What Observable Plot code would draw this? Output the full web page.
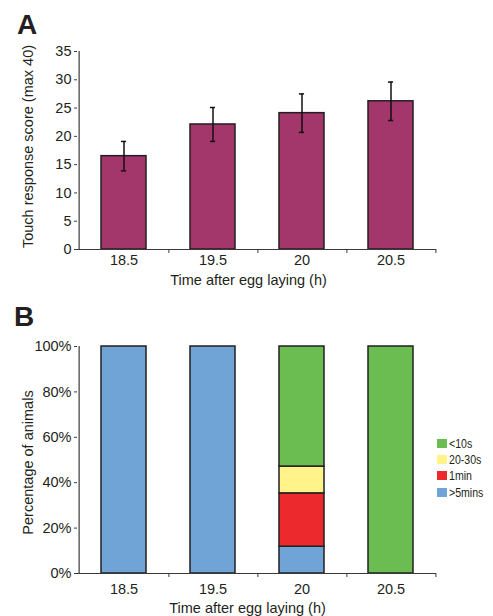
<!DOCTYPE html>
<html><head><meta charset="utf-8">
<script src="https://cdn.jsdelivr.net/npm/d3@7"></script>
<script src="https://cdn.jsdelivr.net/npm/@observablehq/plot@0.6"></script>
<style>
body{margin:0;background:#fff;}
#wrap{position:relative;width:493px;height:616px;overflow:hidden;font-family:"Liberation Sans",Arial,Helvetica,sans-serif;color:#231f20;}
.panel{position:absolute;left:0;}
.letter{position:absolute;font-weight:bold;font-size:28px;line-height:1;}
#legend{position:absolute;left:437px;top:435px;font-family:"Liberation Sans",Arial,sans-serif;font-size:13.4px;}
.row{display:flex;align-items:center;height:16.4px;white-space:nowrap;}
.sw{width:10px;height:9px;margin-right:1.5px;flex:none;}
.lbl{display:inline-block;transform:scaleX(0.79);transform-origin:left center;}
</style></head>
<body><div id="wrap"></div>
<script>
// ---- Data ----
const times = ["18.5", "19.5", "20", "20.5"];
// Panel A: touch response score (mean, error)
const scoreMean = [16.5, 22.1, 24.1, 26.2];
const scoreErr = [2.6, 3.0, 3.4, 3.4];
const yTicksA = [0, 5, 10, 15, 20, 25, 30, 35];
// Panel B: percentage of animals per response category
const categories = [">5mins", "1min", "20-30s", "<10s"];
const pctOver5min = [100, 100, 11.8, 0];
const pct1min = [0, 0, 23.5, 0];
const pct20to30s = [0, 0, 11.8, 0];
const pctUnder10s = [0, 0, 52.9, 100];
const catColors = ["#70a3d6", "#ec2a2d", "#fff38a", "#6cbd51"];
const yTicksB = [0, 20, 40, 60, 80, 100];
const legendOrder = ["<10s", "20-30s", "1min", ">5mins"];
const titleYA = "Touch response score (max 40)";
const titleYB = "Percentage of animals";
const titleX = "Time after egg laying (h)";

// ---- Build tables ----
const dataA = times.map((t, i) => ({t, m: scoreMean[i], e: scoreErr[i]}));
const series = [pctOver5min, pct1min, pct20to30s, pctUnder10s];
const dataB = [];
times.forEach((t, i) => categories.forEach((c, j) => {
  if (series[j][i] > 0) dataB.push({t, cat: c, pct: series[j][i]});
}));

const W = 493, ml = 77, mr = 57, pi = 0.5, po = 0.25;
const step = (W - ml - mr) / (times.length - pi + 2 * po);
const bw = step * (1 - pi);
const capInset = (bw - 5) / 2;
const ink = "#231f20";
const axisCol = "#3a3a3a";
const style = {fontFamily: '"Liberation Sans", Arial, Helvetica, sans-serif', fontSize: "14.5px", color: ink, background: "transparent", overflow: "visible"};

function axisLines() {
  return [
    Plot.ruleY([0], {stroke: axisCol, strokeWidth: 1.2}),
    Plot.ruleX([times[0]], {x: d => d, dx: -(po * step + bw / 2), stroke: axisCol, strokeWidth: 1.2}),
    Plot.ruleX(times, {x: d => d, dx: step / 2, y1: 0, y2: 0, insetBottom: -4, stroke: axisCol})
  ];
}

const chartA = Plot.plot({
  width: W, height: 290, marginLeft: ml, marginRight: mr, marginTop: 51, marginBottom: 41,
  style,
  x: {domain: times, paddingInner: pi, paddingOuter: po, axis: null},
  y: {domain: [0, 35], axis: null},
  marks: [
    Plot.barY(dataA, {x: "t", y: "m", fill: "#a3376b", stroke: ink, strokeWidth: 1.5}),
    Plot.ruleX(dataA, {x: "t", y1: d => d.m - d.e, y2: d => d.m + d.e, stroke: "#111", strokeWidth: 1.5}),
    Plot.tickY(dataA, {x: "t", y: d => d.m + d.e, insetLeft: capInset, insetRight: capInset, stroke: "#111", strokeWidth: 1.5}),
    Plot.tickY(dataA, {x: "t", y: d => d.m - d.e, insetLeft: capInset, insetRight: capInset, stroke: "#111", strokeWidth: 1.5}),
    Plot.axisY({ticks: yTicksA, tickSize: 3, tickPadding: 3, label: null, stroke: axisCol, fill: ink}),
    Plot.axisX({tickSize: 0, tickPadding: 5, label: null, fill: ink}),
    ...axisLines(),
    Plot.text([titleYA], {text: d => d, frameAnchor: "left", textAnchor: "middle", rotate: -90, dx: -49, dy: -4, fill: ink}),
    Plot.text([titleX], {text: d => d, frameAnchor: "bottom", textAnchor: "middle", dx: -8.5, dy: 35, fill: ink})
  ]
});

const chartB = Plot.plot({
  width: W, height: 326, marginLeft: ml, marginRight: mr, marginTop: 56, marginBottom: 43,
  style,
  x: {domain: times, paddingInner: pi, paddingOuter: po, axis: null},
  y: {domain: [0, 100], axis: null},
  color: {domain: categories, range: catColors},
  marks: [
    Plot.barY(dataB, {x: "t", y: "pct", fill: "cat", stroke: ink, strokeWidth: 1.5}),
    Plot.axisY({ticks: yTicksB, tickFormat: d => d + "%", tickSize: 3, tickPadding: 3, label: null, stroke: axisCol, fill: ink}),
    Plot.axisX({tickSize: 0, tickPadding: 10, label: null, fill: ink}),
    ...axisLines(),
    Plot.text([titleYB], {text: d => d, frameAnchor: "left", textAnchor: "middle", rotate: -90, dx: -49.5, dy: 2.5, fill: ink}),
    Plot.text([titleX], {text: d => d, frameAnchor: "bottom", textAnchor: "middle", dx: -9.5, dy: 39, fill: ink})
  ]
});

const wrap = document.getElementById("wrap");
chartA.classList.add("panel"); chartA.style.top = "0px"; chartA.style.position = "absolute";
chartB.classList.add("panel"); chartB.style.top = "290px"; chartB.style.position = "absolute";
wrap.appendChild(chartA);
wrap.appendChild(chartB);

function letter(t, left, top) {
  const d = document.createElement("div");
  d.className = "letter"; d.textContent = t;
  d.style.left = left + "px"; d.style.top = top + "px";
  wrap.appendChild(d);
}
letter("A", 17, 11);
letter("B", 14, 303);

const lg = document.createElement("div");
lg.id = "legend";
legendOrder.forEach(c => {
  const r = document.createElement("div"); r.className = "row";
  const s = document.createElement("div"); s.className = "sw";
  s.style.background = catColors[categories.indexOf(c)];
  const l = document.createElement("span"); l.className = "lbl"; l.textContent = c;
  r.appendChild(s); r.appendChild(l); lg.appendChild(r);
});
wrap.appendChild(lg);
</script>
</body></html>
